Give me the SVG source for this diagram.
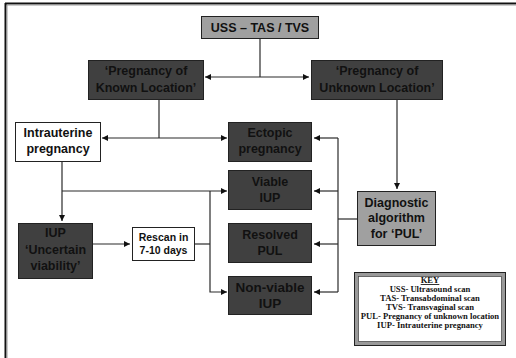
<svg xmlns="http://www.w3.org/2000/svg" width="516" height="358" viewBox="0 0 516 358">
<style>
.dark{fill:#404040;stroke:#222;stroke-width:1}
.light{fill:#a0a0a0;stroke:#222;stroke-width:1}
.white{fill:#fff;stroke:#222;stroke-width:1}
text{font-family:"Liberation Sans",Arial,sans-serif;font-weight:bold;text-anchor:middle;fill:#111}
.t{font-size:12.5px}
.s{font-size:10.5px}
.n{font-size:13.5px}
.k{font-family:"Liberation Serif","Times New Roman",serif;font-size:8.6px}
.c{fill:none;stroke:#2a2a2a;stroke-width:1.2}
</style>
<defs>
<marker id="ah" viewBox="0 0 10 10" refX="10" refY="5" markerWidth="6" markerHeight="6" markerUnits="userSpaceOnUse" orient="auto-start-reverse">
<path d="M0,0 L10,5 L0,10 z" fill="#111"/>
</marker>
</defs>
<rect width="516" height="358" fill="#fff"/>
<g id="frame">
<line x1="5" y1="3.5" x2="516" y2="3.5" stroke="#111" stroke-width="2"/>
<line x1="5" y1="5" x2="516" y2="5" stroke="#999" stroke-width="1"/>
<line x1="5.5" y1="3" x2="5.5" y2="358" stroke="#111" stroke-width="2"/>
<line x1="7" y1="5" x2="7" y2="358" stroke="#999" stroke-width="1"/>
</g>
<g id="connectors">
<line class="c" x1="260" y1="38" x2="260" y2="77"/>
<line class="c" x1="205" y1="77" x2="309" y2="77" marker-start="url(#ah)" marker-end="url(#ah)"/>
<line class="c" x1="159" y1="99" x2="159" y2="138"/>
<line class="c" x1="102" y1="138" x2="227" y2="138" marker-start="url(#ah)" marker-end="url(#ah)"/>
<line class="c" x1="62" y1="161" x2="62" y2="221" marker-end="url(#ah)"/>
<line class="c" x1="62" y1="191" x2="227" y2="191" marker-end="url(#ah)"/>
<line class="c" x1="92" y1="244" x2="130" y2="244" marker-end="url(#ah)"/>
<polyline class="c" points="194,244 210,244"/>
<polyline class="c" points="210,191 210,292 227,292" marker-end="url(#ah)" stroke="#555"/>
<line class="c" x1="397" y1="99" x2="397" y2="189" marker-end="url(#ah)"/>
<line class="c" x1="357" y1="219" x2="338" y2="219" stroke="#555"/>
<line class="c" x1="338" y1="138" x2="338" y2="292"/>
<line class="c" x1="338" y1="138" x2="314" y2="138" marker-end="url(#ah)"/>
<line class="c" x1="338" y1="191" x2="314" y2="191" marker-end="url(#ah)"/>
<line class="c" x1="338" y1="244" x2="314" y2="244" marker-end="url(#ah)"/>
<line class="c" x1="338" y1="292" x2="314" y2="292" marker-end="url(#ah)"/>
</g>
<g id="uss">
<rect class="light" x="201.5" y="16.5" width="117" height="22"/>
<text class="t" x="260" y="32">USS – TAS / TVS</text>
</g>
<g id="pkl">
<rect class="dark" x="88.5" y="60.5" width="115" height="39"/>
<text class="t" x="146" y="75">‘Pregnancy of</text>
<text class="t" x="146" y="92">Known Location’</text>
</g>
<g id="pul">
<rect class="dark" x="311.5" y="60.5" width="131" height="39"/>
<text class="t" x="377" y="75">‘Pregnancy of</text>
<text class="t" x="377" y="92">Unknown Location’</text>
</g>
<g id="intrauterine">
<rect class="white" x="15.5" y="122.5" width="85" height="39"/>
<text class="t" x="58" y="137">Intrauterine</text>
<text class="t" x="58" y="153">pregnancy</text>
</g>
<g id="ectopic">
<rect class="dark" x="228.5" y="122.5" width="83" height="39"/>
<text class="t" x="270" y="137">Ectopic</text>
<text class="t" x="270" y="153">pregnancy</text>
</g>
<g id="viable">
<rect class="dark" x="228.5" y="170.5" width="83" height="39"/>
<text class="t" x="270" y="186">Viable</text>
<text class="t" x="270" y="202">IUP</text>
</g>
<g id="resolved">
<rect class="dark" x="228.5" y="223.5" width="83" height="39"/>
<text class="t" x="270" y="239">Resolved</text>
<text class="t" x="270" y="255">PUL</text>
</g>
<g id="nonviable">
<rect class="dark" x="228.5" y="276.5" width="83" height="38"/>
<text class="n" x="270" y="292">Non-viable</text>
<text class="n" x="270" y="308">IUP</text>
</g>
<g id="uncertain">
<rect class="dark" x="18.5" y="223.5" width="74" height="55"/>
<text class="t" x="55.5" y="237">IUP</text>
<text class="t" x="55.5" y="254">‘Uncertain</text>
<text class="t" x="55.5" y="270">viability’</text>
</g>
<g id="rescan">
<rect class="white" x="132.5" y="227.5" width="62" height="33"/>
<text class="s" x="163.5" y="241">Rescan in</text>
<text class="s" x="163.5" y="254">7-10 days</text>
</g>
<g id="diagnostic">
<rect class="light" x="357.5" y="191.5" width="78" height="54"/>
<text class="t" x="396.5" y="207">Diagnostic</text>
<text class="t" x="396.5" y="222">algorithm</text>
<text class="t" x="396.5" y="238">for ‘PUL’</text>
</g>
<g id="key">
<rect x="354.5" y="272.5" width="151" height="73" fill="#fff" stroke="#222" stroke-width="1"/>
<rect x="356.5" y="274.5" width="147" height="69" fill="none" stroke="#999" stroke-width="3"/>
<rect x="358.5" y="276.5" width="143" height="65" fill="none" stroke="#444" stroke-width="0.8"/>
<text class="k" x="430" y="283" text-decoration="underline">KEY</text>
<text class="k" x="430" y="292">USS- Ultrasound scan</text>
<text class="k" x="430" y="301">TAS- Transabdominal scan</text>
<text class="k" x="430" y="310">TVS- Transvaginal scan</text>
<text class="k" x="430" y="319">PUL- Pregnancy of unknown location</text>
<text class="k" x="430" y="328">IUP- Intrauterine pregnancy</text>
</g>
</svg>
